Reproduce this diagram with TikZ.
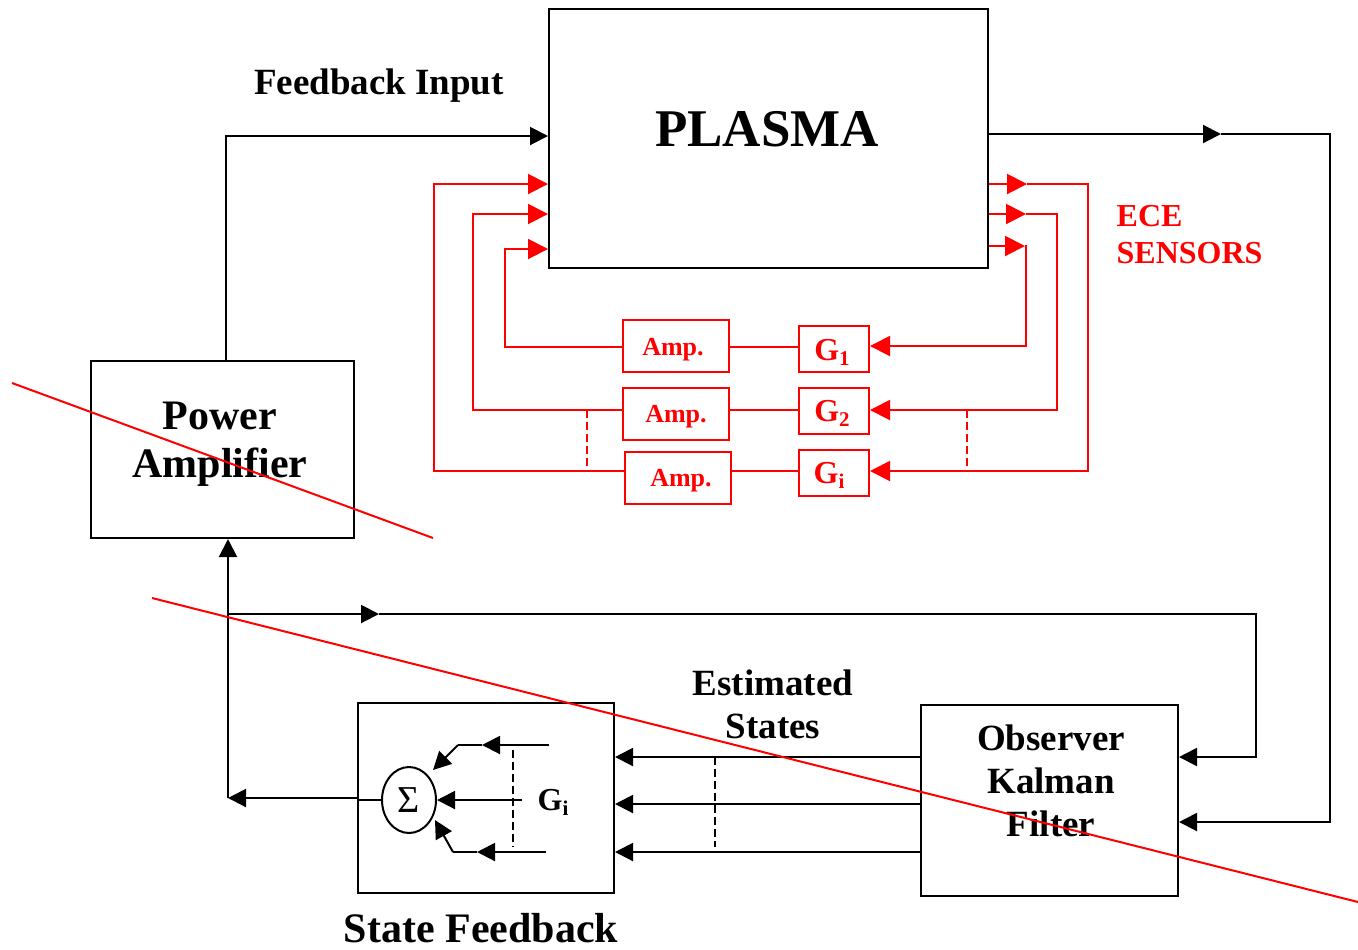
\documentclass[tikz,border=0pt]{standalone}
\usepackage{fontspec}
\setmainfont{Liberation Serif}
\usetikzlibrary{arrows.meta,shapes.geometric}
\newcommand\lowsub[1]{\raisebox{-0.35ex}{\fontsize{10.5}{11}\selectfont #1}}
\begin{document}
\begin{tikzpicture}[x=0.5pt,y=-0.5pt,line width=1pt,
  blk/.style={draw=black,line width=1pt,inner sep=0pt},
  rbox/.style={draw=red,line width=1pt,inner sep=0pt,text=red},
  ampfont/.style={font=\bfseries\fontsize{13}{15}\selectfont},
  gfont/.style={font=\bfseries\fontsize{16}{18}\selectfont},
  midfont/.style={font=\bfseries\fontsize{18.5}{21.5}\selectfont},
  bigfont/.style={font=\bfseries\fontsize{21}{24}\selectfont},
  dsh/.style={dash pattern=on 4pt off 2pt},
  bt/.style={-{Triangle[length=9pt,width=9pt]}},
  rt/.style={red,-{Triangle[length=10pt,width=10pt]}}]
\useasboundingbox (0,0) rectangle (1358,949);
% main boxes
\node[blk,minimum width=219.5pt,minimum height=129.5pt] (plasma) at (768.5,138.5) {};
\node[font=\bfseries\fontsize{26.5}{30}\selectfont] (plasmat) at (767,129) {PLASMA};
\node[blk,minimum width=131.5pt,minimum height=88.5pt] (pa) at (222.5,449.5) {};
\node[bigfont,align=center] (pat) at (220,444) {Power\\Amplifier};
\node[blk,minimum width=128pt,minimum height=95pt] (sf) at (486,798) {};
\node[bigfont] (sft) at (481,928) {State Feedback};
\node[blk,minimum width=128.5pt,minimum height=95.5pt] (obs) at (1049.5,800.5) {};
\node[midfont,align=center] (obst) at (1051,781) {Observer\\Kalman\\Filter};
\node[midfont] (fbt) at (379,86) {Feedback Input};
\node[midfont,align=center] (est) at (773,704) {Estimated\\States};
\node[font=\bfseries\fontsize{16}{18.5}\selectfont,text=red,align=left,anchor=west] (ece) at (1109,235) {ECE\\SENSORS};
% red boxes
\node[rbox,minimum width=53pt,minimum height=26pt] (amp1) at (676,346) {};
\node[ampfont,text=red] (amp1t) at (673,350) {Amp.};
\node[rbox,minimum width=53pt,minimum height=26pt] (amp2) at (676,414) {};
\node[ampfont,text=red] (amp2t) at (676,417) {Amp.};
\node[rbox,minimum width=53pt,minimum height=26pt] (amp3) at (678,478) {};
\node[ampfont,text=red] (amp3t) at (681,481) {Amp.};
\node[rbox,gfont,minimum width=35pt,minimum height=23pt] (g1) at (834,349) {};
\node[gfont,text=red] (g1t) at (832,352) {G\lowsub{1}};
\node[rbox,gfont,minimum width=35pt,minimum height=23pt] (g2) at (834,411) {};
\node[gfont,text=red] (g2t) at (832,413) {G\lowsub{2}};
\node[rbox,gfont,minimum width=35pt,minimum height=23pt] (gi) at (834,473) {};
\node[gfont,text=red] (git2) at (829,475) {G\lowsub{i}};
% sum
\node[draw,ellipse,line width=1pt,minimum width=27pt,minimum height=33pt,inner sep=0pt,font=\fontsize{19}{19}\selectfont] (sum) at (409,800) {Σ};
\node[gfont] (git) at (553,802) {G\lowsub{i}};
% black connectors
\draw[bt] ([xshift=1.75pt]pa.north) |- (plasma.west |- 0,136);
\draw[bt] (plasma.east |- 0,134) -- (1221,134);
\draw[bt] (1221,134) -- (1330,134) |- (obs.east |- 0,822);
\draw[bt] (sf.west |- 0,798) -- (228,798);
\draw[bt] (228,798) -- (pa.south -| 228,0);
\draw[bt] (228,614) -- (379,614);
\draw[bt] (379,614) -- (1256,614) |- (obs.east |- 0,757);
\draw[bt] (obs.west |- 0,757) -- (sf.east |- 0,757);
\draw[bt] (obs.west |- 0,804) -- (sf.east |- 0,804);
\draw[bt] (obs.west |- 0,852) -- (sf.east |- 0,852);
\draw[dsh] (715,757) -- (715,847);
% inside state feedback
\draw (sf.west |- sum.west) -- (sum.west);
\draw[bt] (sum.east -| 522,0) -- (sum.east);
\draw[bt] (549,745) -- (482,745);
\draw (482,745) -- (458,745);
\draw[bt] (458,745) -- (433,770);
\draw[bt] (546,852) -- (477,852);
\draw (477,852) -- (453,852);
\draw[bt] (453,852) -- (435,820);
\draw[dsh] (513,750) -- (513,847);
% red connectors left
\draw[rt] (amp3.west |- 0,471) -| (434,184) -- (plasma.west |- 0,184);
\draw[rt] (amp2.west |- 0,410) -| (473,214) -- (plasma.west |- 0,214);
\draw[rt] (amp1.west |- 0,347) -| (505,249) -- (plasma.west |- 0,249);
\draw[red,dsh] (587,410) -- (587,471);
\draw[red] (amp1.east |- 0,347) -- (g1.west |- 0,347);
\draw[red] (amp2.east |- 0,410) -- (g2.west |- 0,410);
\draw[red] (amp3.east |- 0,471) -- (gi.west |- 0,471);
% red connectors right
\draw[rt] (plasma.east |- 0,184) -- (1027,184);
\draw[rt] (1027,184) -| (1088,471) -- (gi.east |- 0,471);
\draw[rt] (plasma.east |- 0,214) -- (1026,214);
\draw[rt] (1026,214) -| (1057,410) -- (g2.east |- 0,410);
\draw[rt] (plasma.east |- 0,246) -- (1025,246);
\draw[rt] (1025,246) -| (1026,346) -- (g1.east |- 0,346);
\draw[red,dsh] (967,410) -- (967,471);
% cross-out lines
\draw[red] (12,383) -- (433,538);
\draw[red] (152,598) -- (1358,902);
\end{tikzpicture}
\end{document}
